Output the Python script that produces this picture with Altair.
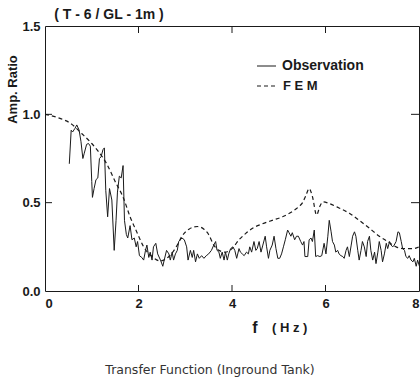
import altair as alt
import pandas as pd

# Observation (solid)
obs_f = [0.52, 0.56, 0.59, 0.64, 0.68, 0.73, 0.77, 0.81, 0.84, 0.89, 0.93, 0.97,
         1.00, 1.015, 1.05, 1.09, 1.13, 1.165, 1.20, 1.24, 1.27, 1.30, 1.34, 1.38,
         1.43, 1.48, 1.52, 1.55, 1.59, 1.63, 1.67, 1.70, 1.74, 1.77, 1.82, 1.86,
         1.91, 1.95, 1.98, 2.02, 2.07, 2.11, 2.15, 2.18, 2.22, 2.25, 2.29, 2.32,
         2.37, 2.41, 2.47, 2.52, 2.55, 2.60, 2.65, 2.68, 2.72, 2.75, 2.79, 2.83,
         2.86, 2.93, 2.98, 3.03, 3.06, 3.11, 3.15, 3.18, 3.22, 3.26, 3.30, 3.35,
         3.40, 3.45, 3.50, 3.56, 3.61, 3.65, 3.68, 3.72, 3.75, 3.79, 3.83, 3.86,
         3.90, 3.93, 3.97, 4.02, 4.06, 4.10, 4.15, 4.18, 4.22, 4.26, 4.31, 4.35,
         4.38, 4.42, 4.47, 4.51, 4.54, 4.58, 4.62, 4.66, 4.71, 4.74, 4.78, 4.81,
         4.86, 4.90, 4.94, 4.98, 5.02, 5.06, 5.10, 5.14, 5.19, 5.22, 5.26, 5.29,
         5.34, 5.38, 5.42, 5.47, 5.51, 5.54, 5.56, 5.62, 5.65, 5.69, 5.72, 5.76,
         5.79, 5.83, 5.88, 5.92, 5.97, 6.01, 6.05, 6.08, 6.12, 6.15, 6.19, 6.22,
         6.26, 6.29, 6.33, 6.37, 6.40, 6.44, 6.47, 6.51, 6.55, 6.58, 6.62, 6.65,
         6.69, 6.72, 6.76, 6.79, 6.83, 6.87, 6.90, 6.94, 6.97, 7.01, 7.05, 7.08,
         7.12, 7.15, 7.19, 7.22, 7.26, 7.30, 7.33, 7.37, 7.40, 7.44, 7.47, 7.51,
         7.55, 7.58, 7.62, 7.65, 7.69, 7.72, 7.76, 7.79, 7.83, 7.87, 7.90, 7.94,
         7.97, 8.01]
obs_amp = [0.72, 0.91, 0.90, 0.92, 0.94, 0.91, 0.845, 0.75, 0.78, 0.83, 0.835, 0.82,
           0.62, 0.53, 0.58, 0.63, 0.64, 0.75, 0.76, 0.80, 0.81, 0.57, 0.42, 0.58,
           0.515, 0.23, 0.40, 0.56, 0.65, 0.64, 0.71, 0.40, 0.32, 0.30, 0.37, 0.29,
           0.30, 0.25, 0.28, 0.20, 0.19, 0.175, 0.23, 0.26, 0.19, 0.22, 0.175, 0.25,
           0.27, 0.21, 0.175, 0.14, 0.175, 0.23, 0.21, 0.175, 0.22, 0.175, 0.21, 0.23,
           0.28, 0.30, 0.29, 0.25, 0.175, 0.23, 0.19, 0.23, 0.165, 0.21, 0.185, 0.20,
           0.185, 0.20, 0.21, 0.23, 0.26, 0.28, 0.23, 0.22, 0.185, 0.22, 0.175, 0.22,
           0.175, 0.21, 0.24, 0.25, 0.23, 0.185, 0.24, 0.22, 0.21, 0.20, 0.22, 0.21,
           0.25, 0.22, 0.28, 0.23, 0.24, 0.28, 0.22, 0.26, 0.31, 0.25, 0.185, 0.23,
           0.26, 0.31, 0.24, 0.185, 0.185, 0.21, 0.25, 0.29, 0.345, 0.33, 0.31, 0.33,
           0.29, 0.31, 0.31, 0.28, 0.26, 0.28, 0.195, 0.195, 0.29, 0.30, 0.28, 0.345,
           0.195, 0.20, 0.195, 0.20, 0.27, 0.21, 0.31, 0.40, 0.335, 0.28, 0.26, 0.22,
           0.23, 0.21, 0.20, 0.195, 0.185, 0.23, 0.25, 0.195, 0.26, 0.31, 0.335, 0.31,
           0.23, 0.175, 0.23, 0.28, 0.25, 0.195, 0.28, 0.31, 0.23, 0.175, 0.22, 0.155,
           0.22, 0.28, 0.23, 0.165, 0.21, 0.27, 0.24, 0.28, 0.26, 0.25, 0.26, 0.28,
           0.335, 0.33, 0.28, 0.24, 0.23, 0.195, 0.185, 0.20, 0.175, 0.165, 0.185, 0.14,
           0.175, 0.14]

# FEM (dashed)
fem_f = [0.0, 0.32, 0.54, 0.79, 1.0, 1.14, 1.32, 1.50, 1.68, 1.82, 1.97, 2.11,
         2.29, 2.47, 2.65, 2.83, 2.93, 3.08, 3.26, 3.40, 3.50, 3.61, 3.72, 3.86,
         4.0, 4.15, 4.29, 4.44, 4.65, 4.86, 5.08, 5.29, 5.44, 5.51, 5.58, 5.65,
         5.72, 5.81, 5.88, 5.95, 6.08, 6.29, 6.51, 6.72, 6.94, 7.15, 7.33, 7.51,
         7.69, 7.87, 8.0]
fem_amp = [1.0, 0.977, 0.95, 0.89, 0.835, 0.79, 0.72, 0.62, 0.525, 0.42, 0.33, 0.25,
           0.195, 0.17, 0.195, 0.26, 0.31, 0.35, 0.365, 0.35, 0.32, 0.26, 0.23, 0.22,
           0.24, 0.29, 0.325, 0.355, 0.38, 0.40, 0.42, 0.45, 0.48, 0.50, 0.54, 0.58,
           0.535, 0.43, 0.48, 0.505, 0.495, 0.47, 0.44, 0.40, 0.355, 0.31, 0.28, 0.25,
           0.24, 0.24, 0.25]

x_ticks = [0, 2, 4, 6, 8]
y_ticks = [0.0, 0.5, 1.0, 1.5]
inner_x_ticks = [2, 4, 6]
inner_y_ticks = [0.5, 1.0]

W, H = 374, 265
FONT = "Liberation Sans"
INK = "#1a1a1a"

obs_df = pd.DataFrame({"f": obs_f, "amp": obs_amp})
fem_df = pd.DataFrame({"f": fem_f, "amp": fem_amp})

xs = alt.Scale(domain=[0, 8], nice=False, zero=False)
ys = alt.Scale(domain=[0, 1.5], nice=False)

x_axis = alt.Axis(values=x_ticks, format="d", ticks=False, domain=False, grid=False,
                  labelFont=FONT, labelFontWeight="bold", labelFontSize=13,
                  labelColor=INK, labelPadding=6, title=None)
y_axis = alt.Axis(values=y_ticks, format=".1f", ticks=False, domain=False, grid=False,
                  labelFont=FONT, labelFontWeight="bold", labelFontSize=13,
                  labelColor=INK, labelPadding=5,
                  title="Amp. Ratio", titleFont=FONT, titleFontWeight="bold",
                  titleFontSize=13, titleColor=INK, titleX=-33, titleY=63,
                  titleAlign="center", titleBaseline="middle", titleAngle=270)

obs = alt.Chart(obs_df).mark_line(color=INK, strokeWidth=1, clip=True).encode(
    x=alt.X("f:Q", scale=xs, axis=x_axis),
    y=alt.Y("amp:Q", scale=ys, axis=y_axis),
)
fem = alt.Chart(fem_df).mark_line(color=INK, strokeWidth=1.2, strokeDash=[4, 3],
                                  interpolate="monotone", clip=True).encode(
    x=alt.X("f:Q", scale=xs),
    y=alt.Y("amp:Q", scale=ys),
)

xt = pd.DataFrame({"f": inner_x_ticks})
yt = pd.DataFrame({"amp": inner_y_ticks})
top_ticks = alt.Chart(xt).mark_rule(color=INK, strokeWidth=1).encode(
    x=alt.X("f:Q", scale=xs), y=alt.value(0), y2=alt.value(7))
bot_ticks = alt.Chart(xt).mark_rule(color=INK, strokeWidth=1).encode(
    x=alt.X("f:Q", scale=xs), y=alt.value(H), y2=alt.value(H - 6))
left_ticks = alt.Chart(yt).mark_rule(color=INK, strokeWidth=1).encode(
    y=alt.Y("amp:Q", scale=ys), x=alt.value(0), x2=alt.value(7))
right_ticks = alt.Chart(yt).mark_rule(color=INK, strokeWidth=1).encode(
    y=alt.Y("amp:Q", scale=ys), x=alt.value(W), x2=alt.value(W - 8))

# legend
leg_obs_line = alt.Chart(pd.DataFrame({"k": [0]})).mark_rule(color=INK, strokeWidth=1).encode(
    x=alt.value(212), x2=alt.value(231), y=alt.value(40))
leg_fem_line = alt.Chart(pd.DataFrame({"k": [0]})).mark_rule(
    color=INK, strokeWidth=1.2, strokeDash=[4, 3]).encode(
    x=alt.value(212), x2=alt.value(233), y=alt.value(60))
leg_obs_txt = alt.Chart(pd.DataFrame({"t": ["Observation"]})).mark_text(
    font=FONT, fontWeight="bold", fontSize=14, color=INK, align="left", baseline="middle").encode(
    text="t:N", x=alt.value(237), y=alt.value(40))
leg_fem_txt = alt.Chart(pd.DataFrame({"t": ["F E M"]})).mark_text(
    font=FONT, fontWeight="bold", fontSize=13, color=INK, align="left", baseline="middle").encode(
    text="t:N", x=alt.value(238), y=alt.value(60))

# titles
title_txt = alt.Chart(pd.DataFrame({"t": ["( T - 6 / GL - 1m )"]})).mark_text(
    font=FONT, fontWeight="bold", fontSize=14, color=INK, align="center", baseline="middle").encode(
    text="t:N", x=alt.value(64), y=alt.value(-11))
f_txt = alt.Chart(pd.DataFrame({"t": ["f"]})).mark_text(
    font=FONT, fontWeight="bold", fontSize=16, color=INK, align="center", baseline="middle").encode(
    text="t:N", x=alt.value(210), y=alt.value(302))
hz_txt = alt.Chart(pd.DataFrame({"t": ["( H z )"]})).mark_text(
    font=FONT, fontWeight="bold", fontSize=13, color=INK, align="left", baseline="middle").encode(
    text="t:N", x=alt.value(227), y=alt.value(302))
caption = alt.Chart(pd.DataFrame({"t": ["Transfer Function (Inground Tank)"]})).mark_text(
    font="DejaVu Sans", fontSize=12.5, color="#333333", align="center", baseline="middle").encode(
    text="t:N", x=alt.value(165), y=alt.value(344))

chart = alt.layer(
    fem, obs, top_ticks, bot_ticks, left_ticks, right_ticks,
    leg_obs_line, leg_fem_line, leg_obs_txt, leg_fem_txt,
    title_txt, f_txt, hz_txt, caption,
).properties(
    width=W, height=H,
    autosize=alt.AutoSizeParams(type="none"),
    padding={"left": 45, "top": 26, "right": 1, "bottom": 88},
    background="white",
).configure_view(stroke=INK, strokeWidth=1)

chart.save("out.html", embed_options={"renderer": "svg", "actions": False})
